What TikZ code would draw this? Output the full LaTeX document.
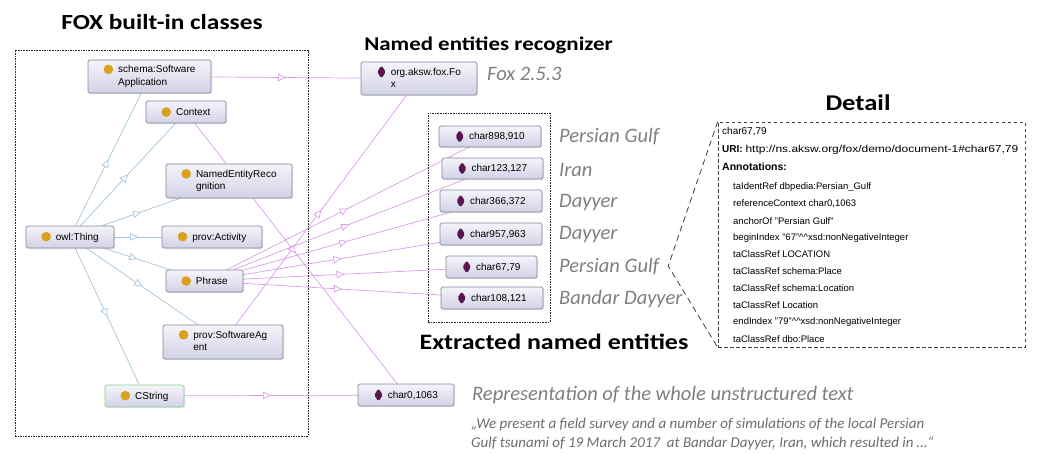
\documentclass[tikz,border=0pt]{standalone}
\usepackage{fontspec}
\setmainfont{Liberation Sans}
\newfontfamily\calfont{Carlito}
\newfontfamily\headfont[FakeStretch=1.18]{Carlito}
\usetikzlibrary{arrows.meta,decorations.markings,calc,shadows}
\pgfdeclarelayer{bg}
\pgfsetlayers{bg,main}

\definecolor{boxline}{HTML}{84849A}
\definecolor{boxtop}{HTML}{F4F4FA}
\definecolor{boxbot}{HTML}{D2D2E6}
\definecolor{dotgold}{HTML}{D9A11E}
\definecolor{indpurple}{HTML}{5A1650}
\definecolor{subblue}{HTML}{A2C5DD}
\definecolor{relpink}{HTML}{DA9CE8}
\definecolor{labelgray}{HTML}{7F7F7F}
\definecolor{greenline}{HTML}{86D486}

% class and individual icons
\newcommand\clsdot{\tikz[baseline=-3.4pt]\fill[dotgold] (0pt,0pt) circle[radius=4.8pt];}
\newcommand\inddia{\tikz[baseline=-3.4pt]\fill[indpurple] (0pt,6.5pt) -- (4.3pt,0pt) -- (0pt,-6.5pt) -- (-4.3pt,0pt) -- cycle;}
\newcommand\twoline[2]{\begin{tabular}[t]{@{}l@{}}#1\\#2\end{tabular}}

\begin{document}
\begin{tikzpicture}[x=1pt,y=-1pt,
  box/.style={draw=boxline, line width=0.6pt, rounded corners=1.6pt,
    top color=boxtop, bottom color=boxbot, inner sep=1pt, outer sep=0pt,
    font=\fontsize{10}{12.5}\selectfont, minimum height=22pt,
    drop shadow={opacity=0.18, shadow xshift=1.2pt, shadow yshift=-1.2pt}},
  midarrow/.style={postaction={decorate}, decoration={markings,
    mark=at position 0.5 with {\arrow{Triangle[open, fill=white, length=8pt, width=7.5pt]}}}},
  isa/.style={draw=subblue, line width=0.7pt, midarrow},
  rel/.style={draw=relpink, line width=0.7pt, midarrow},
  frame/.style={draw=black!85, line width=0.6pt, dash pattern=on 1.6pt off 1pt},
  heading/.style={inner sep=0pt},
  gray label/.style={font=\calfont\itshape\fontsize{20.5}{23}\selectfont,
    text=labelgray, anchor=west, inner sep=0pt},
  detail line/.style={font=\fontsize{9.5}{11}\selectfont, anchor=west, inner sep=0pt},
]
\useasboundingbox (0,0) rectangle (1037,453);

% headings
\node[heading, font=\headfont\bfseries\fontsize{21.5}{24}\selectfont] (hfox) at (162,22) {FOX built-in classes};
\node[heading, font=\headfont\bfseries\fontsize{19.4}{22}\selectfont] (hner) at (488.5,45) {Named entities recognizer};
\node[heading, font=\headfont\bfseries\fontsize{22.5}{25}\selectfont] (hdetail) at (858,103) {Detail};
\node[heading, font=\headfont\bfseries\fontsize{22}{25}\selectfont] (hext) at (554,342) {Extracted named entities};

% dashed frames
\node[frame, minimum width=293pt, minimum height=386pt] (foxframe) at (161.5,243) {};
\node[frame, minimum width=122pt, minimum height=209pt] (entframe) at (489,217.5) {};

% classes
\node[box, minimum width=123pt, minimum height=33pt] (sw) at (149.5,76.5) {\clsdot\hspace{5pt}\twoline{schema:Software}{Application}};
\node[box, minimum width=80pt] (ctx) at (186,112) {\clsdot\hspace{5pt}Context};
\node[box, minimum width=126pt, minimum height=34pt] (ner) at (229,181) {\clsdot\hspace{5pt}\twoline{NamedEntityReco}{gnition}};
\node[box, minimum width=88pt] (thing) at (70,237) {\clsdot\hspace{5pt}owl:Thing};
\node[box, minimum width=100pt] (act) at (212,237) {\clsdot\hspace{5pt}prov:Activity};
\node[box, minimum width=77pt] (phr) at (204.5,281) {\clsdot\hspace{5pt}Phrase};
\node[box, minimum width=120pt, minimum height=34pt] (agent) at (223,342) {\clsdot\hspace{5pt}\twoline{prov:SoftwareAg}{ent}};
\node[box, draw=greenline, minimum width=79pt] (cstr) at (144.5,396) {\clsdot\hspace{5pt}CString};

% individuals
\node[box, minimum width=116pt, minimum height=33pt] (fox) at (419,78.5) {\inddia\hspace{5pt}\twoline{org.aksw.fox.Fo}{x}};
\node[box, minimum width=102pt, minimum height=21pt] (e1) at (490,136.5) {\inddia\hspace{5pt}char898,910};
\node[box, minimum width=101pt, minimum height=21pt] (e2) at (492.5,168.5) {\inddia\hspace{5pt}char123,127};
\node[box, minimum width=102pt] (e3) at (491,201) {\inddia\hspace{5pt}char366,372};
\node[box, minimum width=102pt] (e4) at (491,234) {\inddia\hspace{5pt}char957,963};
\node[box, minimum width=91pt] (e5) at (491.5,267) {\inddia\hspace{5pt}char67,79};
\node[box, minimum width=102pt] (e6) at (492,298) {\inddia\hspace{5pt}char108,121};
\node[box, minimum width=96pt] (c0) at (406,395) {\inddia\hspace{5pt}char0,1063};

% surface forms
\node[gray label] (lfox) at (487,74) {Fox 2.5.3};
\node[gray label] (l1) at (559,137) {Persian Gulf};
\node[gray label] (l2) at (559,170) {Iran};
\node[gray label] (l3) at (559,203) {Dayyer};
\node[gray label] (l4) at (559,235) {Dayyer};
\node[gray label] (l5) at (559,267) {Persian Gulf};
\node[gray label] (l6) at (559,299) {Bandar Dayyer};
\node[gray label] (lrep) at (472,395) {Representation of the whole unstructured text};
\node[font=\calfont\itshape\fontsize{15}{18.5}\selectfont, text=labelgray!85!black,
  anchor=north west, align=left, inner sep=0pt] (quote) at (471,418)
  {„We present a field survey and a number of simulations of the local Persian\\
   Gulf tsunami of 19 March 2017~ at Bandar Dayyer, Iran, which resulted in …“};

% detail of char67,79
\node[draw=black!75, line width=0.7pt, dash pattern=on 3.5pt off 2.5pt,
  minimum width=307pt, minimum height=225pt, inner sep=0pt] (dbox) at (871.5,234.5) {};
\coordinate (tip) at ($(l5.east)+(9,-1)$);
\draw[black!75, line width=0.8pt, dash pattern=on 6pt off 4pt]
  (dbox.north west) -- (tip) -- (dbox.south west);
\node[detail line, font=\fontsize{10}{12}\selectfont] (d0) at (722,132) {char67,79};
\node[detail line, font=\fontsize{10}{12}\selectfont] (d1) at (722,150)
  {\textbf{URI:}\ \scalebox{1.2}[1]{http://ns.aksw.org/fox/demo/document-1\#char67,79}};
\node[detail line, font=\fontsize{10.5}{12}\selectfont] (d2) at (722,167) {\textbf{Annotations:}};
\foreach \txt [count=\k from 0] in {%
  {taIdentRef dbpedia:Persian\_Gulf},
  {referenceContext char0,1063},
  {anchorOf "Persian Gulf"},
  {beginIndex "67"\textasciicircum\textasciicircum xsd:nonNegativeInteger},
  {taClassRef LOCATION},
  {taClassRef schema:Place},
  {taClassRef schema:Location},
  {taClassRef Location},
  {endIndex "79"\textasciicircum\textasciicircum xsd:nonNegativeInteger},
  {taClassRef dbo:Place}}
  \node[detail line] (a\k) at (733,187+16.9*\k) {\txt};

% connectors
\begin{pgfonlayer}{bg}
  \foreach \c in {sw,ctx,ner,act,phr,agent,cstr}
    \draw[isa] (thing) -- (\c);
  \draw[rel] (sw) -- (fox);
  \draw[rel] (agent) -- (fox);
  \draw[rel] (ctx) -- (c0);
  \draw[rel] (cstr) -- (c0);
  \foreach \e in {e1,e2,e3,e4,e5,e6}
    \draw[rel] (phr) -- (\e);
\end{pgfonlayer}
\end{tikzpicture}
\end{document}
